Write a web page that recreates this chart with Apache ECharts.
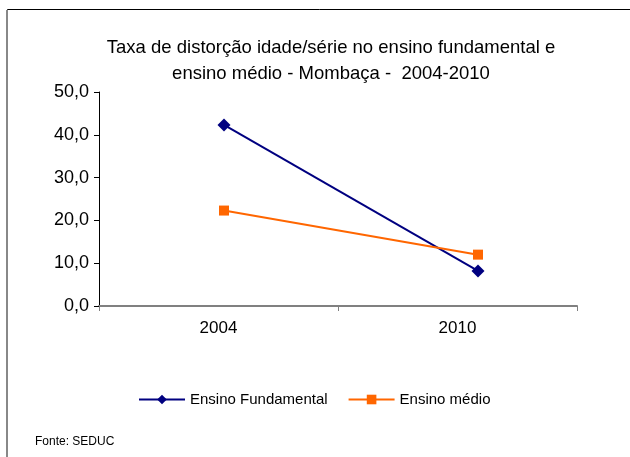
<!DOCTYPE html>
<html>
<head>
<meta charset="utf-8">
<script src="https://cdn.jsdelivr.net/npm/echarts@6/dist/echarts.min.js"></script>
<style>
    html, body { margin: 0; padding: 0; background: #fff; }
    #chart { width: 630px; height: 457px; }
</style>
</head>
<body>
<div id="chart"></div>
<script>
// data
const years = ['2004', '2010'];
const fundamental = [42.3, 8.2];
const medio = [22.3, 12.0];
const yTicks = [0, 10, 20, 30, 40, 50];

const chart = echarts.init(document.getElementById('chart'));
const font = '"Liberation Sans", Arial, sans-serif';
const yMin = yTicks[0], yMax = yTicks[yTicks.length - 1];

chart.setOption({
    animation: false,
    textStyle: { fontFamily: font },
    title: {
        text: 'Taxa de distorção idade/série no ensino fundamental e\nensino médio - Mombaça -  2004-2010',
        left: 326,
        top: 30,
        textAlign: 'center',
        textStyle: { fontSize: 18.5, fontWeight: 'normal', color: '#000', lineHeight: 26, fontFamily: font }
    },
    graphic: [
        // chart frame (right and bottom edges fall outside the picture)
        { type: 'rect', shape: { x: 7.5, y: 9.5, width: 700, height: 600 }, style: { fill: 'none', stroke: '#000', lineWidth: 1 } },
        { type: 'line', shape: { x1: 7, y1: 10, x2: 7, y2: 457 }, style: { stroke: '#888', lineWidth: 2 } },
        { type: 'text', left: 35, top: 436, style: { text: 'Fonte: SEDUC', fontSize: 12, fill: '#000', fontFamily: '"Liberation Sans Narrow", "Liberation Sans", sans-serif' } }
    ],
    legend: {
        top: 387,
        left: 133,
        itemWidth: 46,
        itemHeight: 12,
        itemGap: 20,
        textStyle: { fontSize: 15, color: '#000', fontFamily: font },
        data: ['Ensino Fundamental', 'Ensino médio']
    },
    grid: [
        { left: 99, right: 53, top: 92, bottom: 151 },
        // the plotted points sit a little right of the category labels in the original
        { left: 97, right: 25, top: 92, bottom: 151 }
    ],
    xAxis: [
        {
            type: 'category',
            data: years,
            boundaryGap: true,
            axisLine: { lineStyle: { color: '#808080', width: 2 } },
            axisTick: { show: true, length: 5, lineStyle: { color: '#808080' } },
            axisLabel: { fontSize: 17, color: '#000', margin: 14 }
        },
        { type: 'category', gridIndex: 1, data: years, boundaryGap: true, show: false }
    ],
    yAxis: [
        {
            type: 'value',
            min: yMin,
            max: yMax,
            interval: 10,
            splitLine: { show: false },
            axisLine: { show: true, lineStyle: { color: '#000', width: 1 } },
            axisTick: { show: true, length: 5, lineStyle: { color: '#000' } },
            axisLabel: {
                fontSize: 18,
                color: '#000',
                margin: 10,
                formatter: v => v.toFixed(1).replace('.', ',')
            }
        },
        { type: 'value', gridIndex: 1, min: yMin, max: yMax, interval: 10, show: false, splitLine: { show: false } }
    ],
    series: [
        {
            name: 'Ensino Fundamental',
            type: 'line',
            xAxisIndex: 1,
            yAxisIndex: 1,
            data: fundamental,
            symbol: 'diamond',
            symbolSize: 13,
            lineStyle: { color: '#000080', width: 2 },
            itemStyle: { color: '#000080' }
        },
        {
            name: 'Ensino médio',
            type: 'line',
            xAxisIndex: 1,
            yAxisIndex: 1,
            data: medio,
            symbol: 'rect',
            symbolSize: 10,
            lineStyle: { color: '#FF6600', width: 2 },
            itemStyle: { color: '#FF6600' }
        }
    ]
});
</script>
</body>
</html>
